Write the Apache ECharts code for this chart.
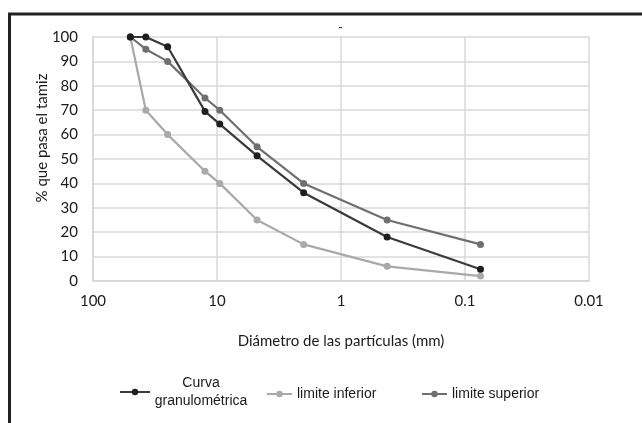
<!DOCTYPE html>
<html>
<head>
<meta charset="utf-8">
<script src="https://cdn.jsdelivr.net/npm/echarts@6/dist/echarts.min.js"></script>
<style>
  html, body { margin: 0; padding: 0; background: #fff; }
  #chart { width: 642px; height: 423px; }
</style>
</head>
<body>
<div id="chart"></div>
<script>
  // diámetro (mm) y % que pasa
  var curvaDiam = [50, 37.5, 25, 12.5, 9.5, 4.75, 2.0, 0.425, 0.075];
  var curvaPasa = [100, 100, 96, 69.5, 64.3, 51.3, 36.2, 18, 4.8];
  var infDiam = [50, 37.5, 25, 12.5, 9.5, 4.75, 2.0, 0.425, 0.075];
  var infPasa = [100, 70, 60, 45, 40, 25, 15, 6, 2];
  var supDiam = [50, 37.5, 25, 12.5, 9.5, 4.75, 2.0, 0.425, 0.075];
  var supPasa = [100, 95, 90, 75, 70, 55, 40, 25, 15];
  var xTicks = [100, 10, 1, 0.1, 0.01];
  var seriesNames = ["Curva granulométrica", "limite inferior", "limite superior"];

  function pares(d, p) {
    return d.map(function (v, i) { return [v, p[i]]; });
  }

  var chart = echarts.init(document.getElementById("chart"));
  var axisFont = "Lato, 'Liberation Sans', sans-serif";
  var legendFont = "'Liberation Sans', Arial, sans-serif";

  var option = {
    backgroundColor: "#ffffff",
    animation: false,
    grid: { left: 93, right: 53, top: 37, bottom: 142 },
    xAxis: {
      type: "log",
      logBase: 10,
      min: 0.01,
      max: 100,
      inverse: true,
      name: "Diámetro de las partículas (mm)",
      nameLocation: "middle",
      nameGap: 53,
      nameTextStyle: { fontFamily: axisFont, fontSize: 15, color: "#1a1a1a" },
      axisLine: { show: true, lineStyle: { color: "#d4d4d4", width: 1.5 } },
      axisTick: { show: false },
      splitLine: { show: true, lineStyle: { color: "#d9d9d9", width: 1.5 } },
      axisLabel: {
        fontFamily: axisFont, fontSize: 15, color: "#1a1a1a", margin: 13,
        formatter: function (v) {
          for (var i = 0; i < xTicks.length; i++) {
            if (Math.abs(Math.log10(v) - Math.log10(xTicks[i])) < 1e-6) return String(xTicks[i]);
          }
          return "";
        }
      }
    },
    yAxis: {
      type: "value",
      min: 0,
      max: 100,
      interval: 10,
      axisLine: { show: true, lineStyle: { color: "#d4d4d4", width: 1.5 } },
      axisTick: { show: false },
      splitLine: { show: true, lineStyle: { color: "#d9d9d9", width: 1.5 } },
      axisLabel: { fontFamily: axisFont, fontSize: 15, color: "#1a1a1a", margin: 15 }
    },
    legend: [
      {
        data: [seriesNames[0]], left: 114, top: 371,
        itemWidth: 30, itemHeight: 8,
        formatter: function () { return "{a|Curva}\n{a|granulométrica}"; },
        textStyle: {
          fontFamily: legendFont, fontSize: 14, color: "#1a1a1a",
          rich: { a: { fontFamily: legendFont, fontSize: 14, color: "#1a1a1a", width: 92, align: "center", lineHeight: 18 } }
        }
      },
      {
        data: [seriesNames[1]], left: 261, top: 382,
        itemWidth: 25, itemHeight: 8,
        textStyle: { fontFamily: legendFont, fontSize: 14, color: "#1a1a1a" }
      },
      {
        data: [seriesNames[2]], left: 416, top: 382,
        itemWidth: 25, itemHeight: 8,
        textStyle: { fontFamily: legendFont, fontSize: 14, color: "#1a1a1a" }
      }
    ],
    graphic: [
      { type: "line", shape: { x1: 8, y1: 14, x2: 642, y2: 14 }, style: { stroke: "#222", lineWidth: 3 } },
      { type: "line", shape: { x1: 9.5, y1: 13, x2: 9.5, y2: 423 }, style: { stroke: "#222", lineWidth: 3 } },
      { type: "text", left: 338, top: 21, style: { text: "-", fontSize: 13, fill: "#222", fontFamily: axisFont } },
      {
        type: "text", x: 42, y: 138, rotation: Math.PI / 2,
        style: { text: "% que pasa el tamiz", fontFamily: axisFont, fontSize: 15, fill: "#1a1a1a", align: "center", verticalAlign: "middle" }
      }
    ],
    series: [
      {
        name: seriesNames[2], type: "line", data: pares(supDiam, supPasa),
        symbol: "circle", symbolSize: 7, z: 3,
        lineStyle: { color: "#6f6f6f", width: 2.2 },
        itemStyle: { color: "#6f6f6f" }
      },
      {
        name: seriesNames[1], type: "line", data: pares(infDiam, infPasa),
        symbol: "circle", symbolSize: 7, z: 2,
        lineStyle: { color: "#a9a9a9", width: 2.2 },
        itemStyle: { color: "#a9a9a9" }
      },
      {
        name: seriesNames[0], type: "line", data: pares(curvaDiam, curvaPasa),
        symbol: "circle", symbolSize: 7, z: 4,
        lineStyle: { color: "#3a3a3a", width: 2.2 },
        itemStyle: { color: "#1e1e1e" }
      }
    ]
  };
  chart.setOption(option);
</script>
</body>
</html>
